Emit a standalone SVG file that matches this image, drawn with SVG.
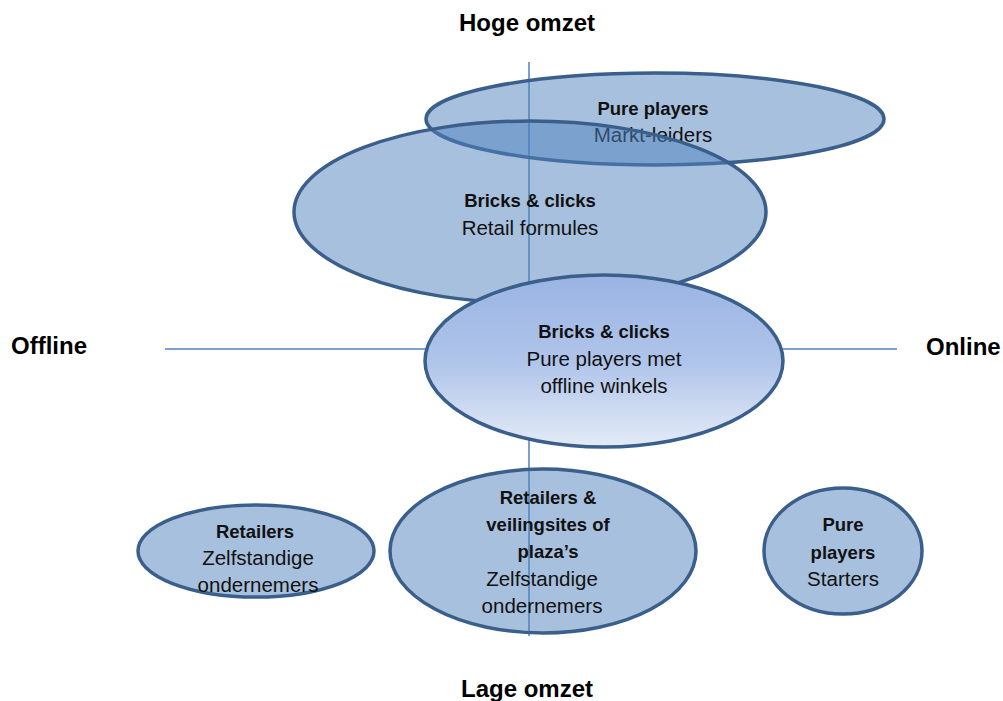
<svg xmlns="http://www.w3.org/2000/svg" width="1003" height="701" viewBox="0 0 1003 701">
<style>
.t{font-family:"Liberation Sans",Arial,sans-serif;font-size:20.5px;fill:#111;text-anchor:middle}
.b{font-weight:bold;font-size:18.5px}
.axis{stroke:#4F81BD;stroke-width:1.5;fill:none}
.e{fill:#4F81BD;fill-opacity:0.5;stroke:#3A5F8B;stroke-width:3.5}
.lab{font-family:"Liberation Sans",Arial,sans-serif;font-size:24px;font-weight:bold;fill:#000}
</style>
<defs>
<linearGradient id="g" x1="0" y1="0" x2="0" y2="1">
<stop offset="0" stop-color="#9AB4E3"/>
<stop offset="0.5" stop-color="#AFC4EA"/>
<stop offset="1" stop-color="#E4EBF7"/>
</linearGradient>
</defs>
<rect width="1003" height="701" fill="#fff"/>
<g id="connectors">
<line class="axis" x1="529" y1="62" x2="529" y2="636"/>
<line class="axis" x1="165" y1="349" x2="897" y2="349"/>
</g>
<g id="labels">
<text class="lab" x="527" y="31" text-anchor="middle">Hoge omzet</text>
<text class="lab" x="527" y="697" text-anchor="middle">Lage omzet</text>
<text class="lab" x="11" y="354">Offline</text>
<text class="lab" x="926" y="355">Online</text>
</g>
<g id="pp-markt">
<ellipse class="e" cx="655" cy="119" rx="229" ry="46"/>
<text class="t b" x="653" y="115">Pure players</text>
<text class="t" x="653" y="142">Markt-leiders</text>
</g>
<g id="bc-retail">
<ellipse class="e" cx="530" cy="212" rx="236" ry="91"/>
<text class="t b" x="530" y="207">Bricks &amp; clicks</text>
<text class="t" x="530" y="235">Retail formules</text>
</g>
<g id="bc-pure">
<ellipse cx="604" cy="361" rx="179" ry="86" fill="url(#g)" stroke="#3A5F8B" stroke-width="3.5"/>
<text class="t b" x="604" y="338">Bricks &amp; clicks</text>
<text class="t" x="604" y="366">Pure players met</text>
<text class="t" x="604" y="393">offline winkels</text>
</g>
<g id="retailers">
<ellipse class="e" cx="256" cy="551" rx="118" ry="46"/>
<text class="t b" x="255" y="538">Retailers</text>
<text class="t" x="258" y="565">Zelfstandige</text>
<text class="t" x="258" y="592">ondernemers</text>
</g>
<g id="veilingsites">
<ellipse class="e" cx="543" cy="551" rx="153" ry="82"/>
<text class="t b" x="548" y="504">Retailers &amp;</text>
<text class="t b" x="548" y="531">veilingsites of</text>
<text class="t b" x="548" y="558">plaza’s</text>
<text class="t" x="542" y="586">Zelfstandige</text>
<text class="t" x="542" y="613">ondernemers</text>
</g>
<g id="pp-starters">
<ellipse class="e" cx="843" cy="551" rx="79" ry="63"/>
<text class="t b" x="843" y="531">Pure</text>
<text class="t b" x="843" y="559">players</text>
<text class="t" x="843" y="586">Starters</text>
</g>
</svg>
